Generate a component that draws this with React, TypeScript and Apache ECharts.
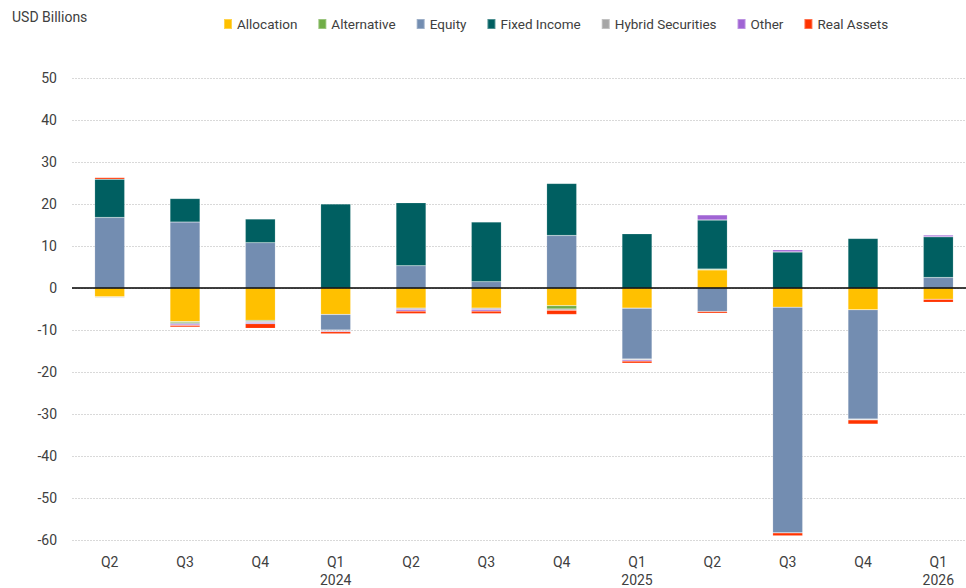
import React, { useEffect, useRef } from "react";
import * as echarts from "echarts";

const quarters = ["Q2", "Q3", "Q4", "Q1", "Q2", "Q3", "Q4", "Q1", "Q2", "Q3", "Q4", "Q1"];
const years = ["", "", "", "2024", "", "", "", "2025", "", "", "", "2026"];

const seriesNames = ["Allocation", "Alternative", "Equity", "Fixed Income", "Hybrid Securities", "Other", "Real Assets"];
const seriesColors = ["#FFC000", "#70AD47", "#738DB1", "#005F61", "#A6A6A6", "#A064D4", "#FF3300"];
const legendTextWidths = [60.6, 70, 34.7, 80.3, 105.4, 33, 68];

const allocation = [-2.1, -8.0, -7.7, -6.3, -4.8, -4.8, -4.2, -4.8, 4.3, -4.6, -5.2, -2.7];
const alternative = [0, -0.3, -0.2, 0, 0, 0, -0.8, 0, 0.2, 0, 0, 0];
const equity = [16.8, 15.7, 10.8, -3.7, 5.3, 1.5, 12.5, -12.1, -5.6, -53.7, -26.0, 2.5];
const fixedIncome = [9.1, 5.6, 5.6, 20.0, 15.0, 14.2, 12.4, 12.9, 11.7, 8.6, 11.8, 9.7];
const hybrid = [-0.2, -0.3, -0.3, -0.2, -0.3, -0.3, -0.3, -0.2, 0, 0, -0.2, 0];
const other = [0, -0.3, -0.3, -0.2, -0.4, -0.4, 0, -0.3, 1.2, 0.5, 0, 0.4];
const realAssets = [0.4, -0.4, -1.1, -0.5, -0.6, -0.6, -1.0, -0.5, -0.4, -0.7, -1.0, -0.7];

const seriesData = [allocation, alternative, equity, fixedIncome, hybrid, other, realAssets];

const yMin = -60;
const yMax = 50;
const yInterval = 10;

const FONT = "Roboto, 'Liberation Sans', sans-serif";
const TEXT = "#404040";

export default function App() {
  const ref = useRef<HTMLDivElement>(null);
  useEffect(() => {
    if (!ref.current) return;
    document.body.style.margin = "0";
    document.body.style.overflow = "hidden";
    const chart = echarts.init(ref.current, null, { renderer: "svg" });
    const categories = quarters.map((q, i) => (years[i] ? q + "\n" + years[i] : q));
    const series: any[] = seriesNames.map((name, i) => ({
      name,
      type: "bar",
      stack: "total",
      barWidth: 30,
      data: seriesData[i],
      itemStyle: {
        color: seriesColors[i],
        borderColor: "rgba(255,255,255,0.3)",
        borderWidth: 0.5,
      },
      emphasis: { disabled: true },
    }));
    series[0].markLine = {
      silent: true,
      symbol: "none",
      label: { show: false },
      lineStyle: { color: "#000", width: 1.5, type: "solid" },
      data: [{ yAxis: 0 }],
    };
    chart.setOption({
      animation: false,
      textStyle: { fontFamily: FONT },
      graphic: [
        {
          type: "text",
          left: 12,
          top: 10,
          style: { text: "USD Billions", fill: TEXT, fontSize: 14, fontFamily: FONT },
        },
      ],
      legend: {
        left: 218,
        top: 12,
        itemWidth: 8,
        itemHeight: 10,
        itemGap: 20,
        icon: "rect",
        textStyle: { color: TEXT, fontSize: 13.5, fontFamily: FONT },
        data: seriesNames.map((n, i) => ({ name: n, textStyle: { width: legendTextWidths[i] } })),
      },
      grid: { left: 72, right: 0, top: 78, bottom: 48, outerBoundsMode: "none", containLabel: false },
      xAxis: {
        type: "category",
        data: categories,
        axisLine: { show: false },
        axisTick: { show: false },
        axisLabel: {
          color: TEXT,
          fontSize: 14,
          fontFamily: FONT,
          margin: 13,
          lineHeight: 18,
          verticalAlign: "top",
        },
      },
      yAxis: {
        type: "value",
        min: yMin,
        max: yMax,
        interval: yInterval,
        axisLine: { show: false },
        axisTick: { show: false },
        axisLabel: { color: TEXT, fontSize: 14, fontFamily: FONT, margin: 15 },
        splitLine: { lineStyle: { color: "#D9D9D9", type: [2, 1], width: 1 } },
      },
      series,
    });
    return () => chart.dispose();
  }, []);
  return (
    <div style={{ position: "fixed", left: 0, top: 0, width: 966, height: 588, overflow: "hidden", background: "#fff" }}>
      <div ref={ref} style={{ position: "absolute", left: 0, top: 0, width: 976, height: 588 }} />
    </div>
  );
}
